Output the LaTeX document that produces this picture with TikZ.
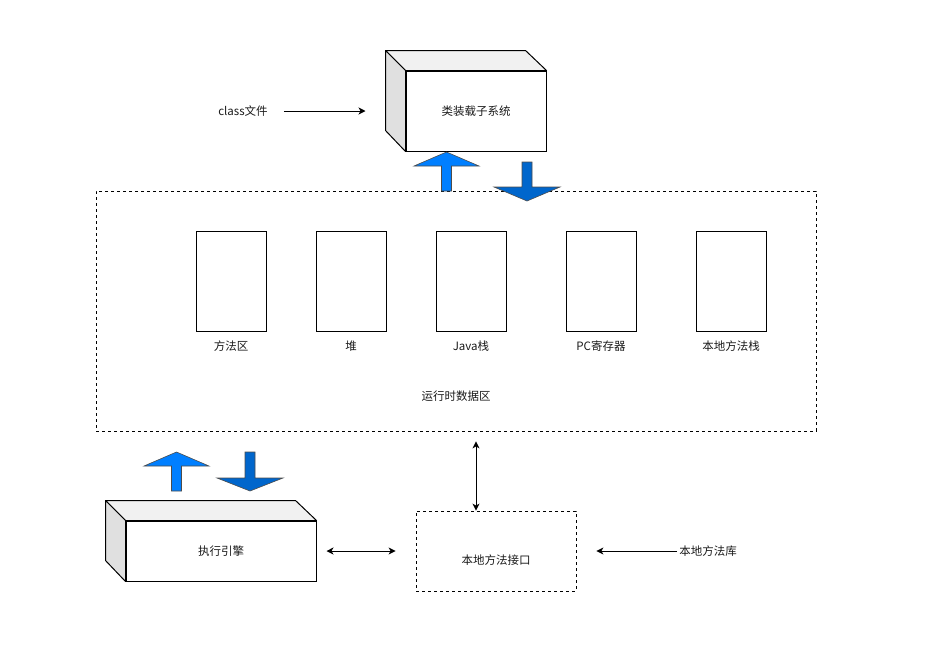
\documentclass[tikz,border=0pt]{standalone}
\usepackage{fontspec}
\setmainfont{Noto Sans CJK SC}
\usetikzlibrary{arrows.meta}
\definecolor{topgray}{HTML}{F1F1F1}
\definecolor{sidegray}{HTML}{E0E0E0}
\definecolor{upblue}{HTML}{007FFF}
\definecolor{downblue}{HTML}{0066CC}
\definecolor{txt}{HTML}{1A1A1A}
\begin{document}
\begin{tikzpicture}[x=1pt,y=-1pt,
  font=\fontsize{11.5}{13}\selectfont,
  every node/.style={text=txt},
  front/.style={draw, fill=white, line width=1pt, inner sep=0pt},
  topface/.style={draw, fill=topgray, line width=1pt, line join=round},
  sideface/.style={draw, fill=sidegray, line width=1pt, line join=round},
  membox/.style={draw, line width=1pt, minimum width=70pt, minimum height=100pt, inner sep=0pt},
  dashbox/.style={draw, line width=0.8pt, dash pattern=on 3pt off 3pt, inner sep=0pt},
  lbl/.style={inner sep=0pt},
  conn/.style={line width=1pt, -{Stealth[length=7pt,width=7pt,inset=2pt]}},
  dconn/.style={line width=1pt, {Stealth[length=7pt,width=7pt,inset=2pt]}-{Stealth[length=7pt,width=7pt,inset=2pt]}},
  uparrow/.style={fill=upblue, draw=black!70, line width=0.6pt, line join=miter},
  downarrow/.style={fill=downblue, draw=black!70, line width=0.6pt, line join=miter}
]
\useasboundingbox (0,0) rectangle (936,662);

% class loader cube
\node[front, minimum width=140pt, minimum height=80pt] (cl) at (476,111) {};
\filldraw[topface] (cl.north west) -- ++(-20,-20) -- ++(140,0) -- (cl.north east) -- cycle;
\filldraw[sideface] (cl.north west) -- ++(-20,-20) -- ++(0,80) -- (cl.south west) -- cycle;
\node[front, minimum width=140pt, minimum height=80pt] (clf) at (476,111) {类装载子系统};

\node[lbl] (cf) at (243,111) {class文件};
\draw[conn, shorten <=16pt, shorten >=40pt] (cf.east) -- (clf.west);

% runtime data area
\node[dashbox, minimum width=720pt, minimum height=240pt] (rt) at (456,311) {};
\node[lbl] (rtl) at (456,396) {运行时数据区};

\node[membox] (m1) at (231,281) {};
\node[membox] (m2) at (351,281) {};
\node[membox] (m3) at (471,281) {};
\node[membox] (m4) at (601,281) {};
\node[membox] (m5) at (731,281) {};
\node[lbl] (l1) at (231,346) {方法区};
\node[lbl] (l2) at (351,346) {堆};
\node[lbl] (l3) at (471,346) {Java栈};
\node[lbl] (l4) at (601,346) {PC寄存器};
\node[lbl] (l5) at (731,346) {本地方法栈};

% block arrows near class loader
\filldraw[uparrow] (446.5,152) -- (479,166) -- (451.5,166) -- (451.5,191) -- (441.5,191) -- (441.5,166) -- (414,166) -- cycle;
\filldraw[downarrow] (527,201) -- (560,187) -- (532,187) -- (532,162) -- (522,162) -- (522,187) -- (494,187) -- cycle;

% block arrows near executor
\filldraw[uparrow] (176.5,452) -- (209,466) -- (181.5,466) -- (181.5,491) -- (171.5,491) -- (171.5,466) -- (144,466) -- cycle;
\filldraw[downarrow] (250,491) -- (283,478) -- (255,478) -- (255,452) -- (245,452) -- (245,478) -- (217,478) -- cycle;

% execution engine cube
\node[front, minimum width=190pt, minimum height=60pt] (ex) at (221,551) {};
\filldraw[topface] (ex.north west) -- ++(-20,-20) -- ++(190,0) -- (ex.north east) -- cycle;
\filldraw[sideface] (ex.north west) -- ++(-20,-20) -- ++(0,60) -- (ex.south west) -- cycle;
\node[front, minimum width=190pt, minimum height=60pt] (exf) at (221,551) {执行引擎};

% native interface
\node[dashbox, minimum width=160pt, minimum height=80pt,
      label={[yshift=-9pt, inner sep=0pt]center:本地方法接口}] (ni) at (496,551) {};
\node[lbl] (lib) at (708,551) {本地方法库};

\draw[dconn, shorten <=10pt, shorten >=20pt] (exf.east) -- (ni.west);
\draw[dconn, shorten <=10pt] ([xshift=20pt]rt.south) -- ([xshift=-20pt]ni.north);
\draw[conn, shorten <=2pt, shorten >=20pt] (lib.west) -- (ni.east);
\end{tikzpicture}
\end{document}
